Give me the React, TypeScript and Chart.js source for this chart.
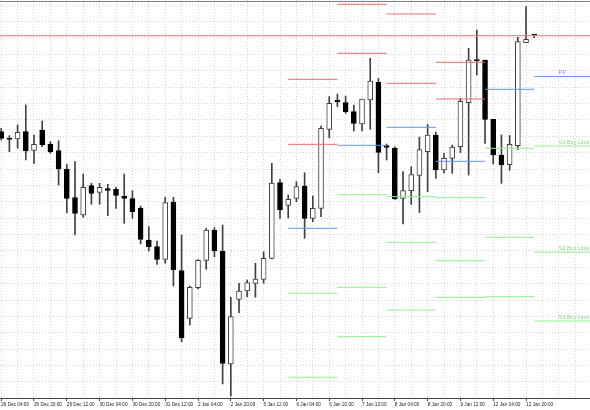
import React, { useEffect, useRef } from 'react';
import { Chart, registerables } from 'chart.js';

Chart.register(...registerables);

// ---- time axis ----
const TIME_LABELS = [
  '26 Dec 04:00', '26 Dec 20:00', '29 Dec 12:00', '30 Dec 04:00', '30 Dec 20:00',
  '31 Dec 12:00', '2 Jan 04:00', '2 Jan 20:00', '5 Jan 12:00', '6 Jan 04:00',
  '6 Jan 20:00', '7 Jan 12:00', '8 Jan 04:00', '8 Jan 20:00', '9 Jan 12:00',
  '12 Jan 04:00', '12 Jan 20:00',
];
const BARS_PER_LABEL = 4;

// ---- H4 candles (index = bar number from 26 Dec 04:00) ----
const OPEN = [
  1226.83, 1226.20, 1226.10, 1226.83, 1224.97, 1227.00, 1225.57, 1224.93, 1223.07, 1220.23,
  1218.50, 1221.43, 1220.77, 1221.13, 1221.07, 1220.37, 1220.13, 1219.17, 1216.00, 1215.33,
  1214.07, 1219.80, 1212.93, 1208.17, 1211.23, 1213.97, 1217.00, 1214.90, 1203.60, 1210.07,
  1210.90, 1211.67, 1212.07, 1214.17, 1221.73, 1219.47, 1220.17, 1221.40, 1218.17, 1219.17,
  1227.07, 1230.00, 1229.73, 1228.83, 1227.60, 1230.00, 1231.77, 1225.43, 1225.17, 1220.17,
  1220.93, 1222.47, 1224.83, 1226.50, 1223.00, 1224.17, 1225.33, 1229.73, 1234.00, 1234.00,
  1228.07, 1224.50, 1223.53, 1225.43, 1235.73, 1236.53,
];
const HIGH = [
  1227.17, 1226.43, 1227.50, 1229.50, 1226.50, 1227.90, 1225.83, 1225.93, 1223.57, 1223.83,
  1222.60, 1221.67, 1221.67, 1221.57, 1221.27, 1222.60, 1220.93, 1219.40, 1217.33, 1215.90,
  1220.27, 1220.27, 1216.50, 1211.40, 1214.05, 1217.17, 1217.23, 1217.50, 1210.27, 1211.67,
  1212.00, 1213.67, 1214.83, 1223.67, 1222.07, 1220.50, 1221.83, 1222.73, 1220.40, 1227.40,
  1230.33, 1230.60, 1230.40, 1229.50, 1230.10, 1234.17, 1232.17, 1225.60, 1225.33, 1222.83,
  1223.33, 1226.30, 1227.55, 1226.80, 1224.67, 1225.50, 1230.17, 1235.17, 1237.00, 1234.00,
  1228.07, 1226.50, 1226.45, 1236.27, 1239.33, 1236.53,
];
const LOW = [
  1226.00, 1224.83, 1225.17, 1224.00, 1223.67, 1225.33, 1224.67, 1221.50, 1218.73, 1216.50,
  1218.27, 1219.57, 1219.57, 1218.43, 1219.17, 1217.67, 1218.17, 1215.60, 1214.90, 1213.57,
  1213.67, 1211.40, 1205.83, 1207.50, 1211.10, 1213.07, 1214.33, 1201.60, 1200.40, 1208.73,
  1210.33, 1210.27, 1211.67, 1214.10, 1218.17, 1218.20, 1219.83, 1216.17, 1217.83, 1218.33,
  1226.23, 1229.33, 1228.67, 1226.90, 1226.90, 1227.07, 1222.73, 1224.00, 1220.05, 1217.60,
  1219.55, 1218.75, 1220.83, 1222.17, 1222.70, 1222.67, 1224.75, 1222.50, 1232.50, 1225.67,
  1223.60, 1221.67, 1222.97, 1225.07, 1235.73, 1236.23,
];
const CLOSE = [
  1226.17, 1226.07, 1226.77, 1224.93, 1225.57, 1225.50, 1224.83, 1223.10, 1220.17, 1218.67,
  1221.27, 1220.67, 1221.27, 1220.97, 1220.47, 1220.17, 1218.83, 1216.07, 1215.33, 1214.07,
  1219.73, 1213.00, 1206.23, 1211.27, 1213.97, 1217.00, 1214.90, 1203.67, 1208.33, 1210.90,
  1211.73, 1212.10, 1214.17, 1221.70, 1219.00, 1220.07, 1221.35, 1218.17, 1219.17, 1227.17,
  1229.67, 1229.80, 1228.83, 1227.67, 1230.10, 1231.90, 1224.77, 1225.27, 1220.10, 1220.95,
  1222.53, 1225.03, 1226.50, 1223.00, 1224.17, 1225.30, 1229.87, 1234.00, 1233.93, 1228.07,
  1224.50, 1223.50, 1225.57, 1235.83, 1236.07, 1236.50,
];

// ---- daily pivot levels (6, 7, 8, 9, 12, 13 Jan) ----
const DAY_START = [35, 41, 47, 53, 59, 65];
const DAY_END = [41, 47, 53, 59, 65, 72];
const R2 = [1232.07, 1239.57, 1238.60, 1233.77, null, null];
const R1 = [1225.57, 1234.67, 1231.67, 1230.10, null, null];
const PP = [1217.17, 1225.47, 1227.27, 1223.87, 1231.07, 1232.35];
const S1 = [1210.67, 1220.53, 1220.33, 1220.23, 1225.17, 1225.40];
const S2 = [1202.27, 1211.27, 1215.77, 1213.93, 1216.27, 1214.78];
const S3 = [null, 1206.33, 1209.00, 1210.27, 1210.33, 1207.90];
const H_LINE = 1236.43;

const LEVEL_LABELS = ['PP', 'S1 Buy Limit', 'S2 Buy Limit', 'S3 Buy Limit'];
const LABEL_BAR = 68;

// ---- scale settings ----
const X_MIN = -0.146;
const X_MAX = 71.8;
const Y_MIN = 1200.2;
const Y_MAX = 1240;
const GRID_TOP = 1239.48;
const GRID_STEP = 1.638;

const RED = '#f06a6a';
const RED_LINE = '#ec7676';
const BLUE = '#6495ed';
const GREEN = '#90ee90';
const GREEN_TEXT = '#7cdc7c';
const WICK = '#404040';
const FONT = '"Liberation Sans", Arial, sans-serif';

function segments(levels: (number | null)[]) {
  const pts: { x: number; y: number | null }[] = [];
  levels.forEach((v, d) => {
    if (v == null) return;
    pts.push({ x: DAY_START[d], y: v }, { x: DAY_END[d], y: v }, { x: DAY_END[d], y: null });
  });
  return pts;
}

function lineDs(data: any[], color: string) {
  return {
    type: 'line' as const,
    data,
    borderColor: color,
    borderWidth: 1,
    pointRadius: 0,
    spanGaps: false,
    tension: 0,
    order: 0,
  };
}

const labelPlugin = {
  id: 'levelLabels',
  afterDatasetsDraw(chart: any) {
    const { ctx, scales } = chart;
    const x = scales.x;
    const y = scales.y;
    const last = DAY_START.length - 1;
    const vals = [PP[last], S1[last], S2[last], S3[last]];
    ctx.save();
    ctx.font = `5.4px ${FONT}`;
    ctx.textAlign = 'left';
    ctx.textBaseline = 'bottom';
    LEVEL_LABELS.forEach((t, i) => {
      ctx.fillStyle = i === 0 ? BLUE : GREEN_TEXT;
      ctx.fillText(t, x.getPixelForValue(LABEL_BAR), y.getPixelForValue(vals[i] as number) - 1.2);
    });
    ctx.restore();
  },
  afterDraw(chart: any) {
    const { ctx, chartArea } = chart;
    ctx.save();
    ctx.strokeStyle = '#808080';
    ctx.lineWidth = 1;
    ctx.beginPath();
    ctx.moveTo(chartArea.left, 1.5);
    ctx.lineTo(chartArea.right, 1.5);
    ctx.stroke();
    ctx.restore();
  },
};

export default function App() {
  const ref = useRef<HTMLCanvasElement>(null);

  useEffect(() => {
    document.body.style.margin = '0';
    const idx = OPEN.map((_, i) => i);
    const bull = idx.map((i) => CLOSE[i] >= OPEN[i]);

    const chart = new Chart(ref.current as HTMLCanvasElement, {
      type: 'bar',
      data: {
        datasets: [
          lineDs([{ x: X_MIN, y: H_LINE }, { x: X_MAX, y: H_LINE }], RED_LINE),
          lineDs(segments(R2), RED),
          lineDs(segments(R1), RED),
          lineDs(segments(PP), BLUE),
          lineDs(segments(S1), GREEN),
          lineDs(segments(S2), GREEN),
          lineDs(segments(S3), GREEN),
          {
            type: 'bar' as const,
            data: idx.map((i) => ({ x: i, y: [Math.min(OPEN[i], CLOSE[i]), Math.max(OPEN[i], CLOSE[i])] })) as any,
            backgroundColor: idx.map((i) => (bull[i] ? '#ffffff' : '#000000')),
            borderColor: idx.map((i) => (bull[i] ? WICK : '#000000')),
            borderWidth: 1,
            borderSkipped: false,
            barThickness: 5,
            minBarLength: 1,
            grouped: false,
            order: 1,
          },
          {
            type: 'bar' as const,
            data: idx.map((i) => ({ x: i, y: [LOW[i], HIGH[i]] })) as any,
            backgroundColor: WICK,
            borderWidth: 0,
            barThickness: 1,
            minBarLength: 1,
            grouped: false,
            order: 2,
          },
        ] as any,
      },
      options: {
        responsive: false,
        animation: false,
        devicePixelRatio: 1,
        layout: { padding: 0 },
        plugins: { legend: { display: false }, tooltip: { enabled: false } },
        scales: {
          x: {
            type: 'linear',
            min: X_MIN,
            max: X_MAX,
            offset: false,
            afterBuildTicks: (s: any) => {
              const t = [];
              for (let b = 0; b <= 70; b += 2) t.push({ value: b });
              s.ticks = t;
            },
            afterFit: (s: any) => {
              s.height = 12;
            },
            ticks: {
              autoSkip: false,
              maxRotation: 0,
              minRotation: 0,
              align: 'start',
              padding: 1,
              color: '#222',
              font: { family: FONT, size: 4.7 },
              callback: (v: any) => {
                const b = Number(v);
                const k = b / BARS_PER_LABEL;
                return b % BARS_PER_LABEL === 0 && k < TIME_LABELS.length ? TIME_LABELS[k] : '';
              },
            },
            grid: {
              offset: false,
              color: '#d4d4d4',
              lineWidth: 1,
              drawTicks: true,
              tickLength: 3,
              tickColor: (c: any) =>
                c.tick && c.tick.value % BARS_PER_LABEL === 0 && c.tick.value <= 64 ? '#444' : 'rgba(0,0,0,0)',
            },
            border: { display: true, color: '#444', width: 1, dash: [1, 2] },
          },
          y: {
            type: 'linear',
            display: true,
            min: Y_MIN,
            max: Y_MAX,
            afterBuildTicks: (s: any) => {
              const t = [];
              for (let n = 0; GRID_TOP - GRID_STEP * n >= Y_MIN; n++) t.push({ value: GRID_TOP - GRID_STEP * n });
              s.ticks = t;
            },
            afterFit: (s: any) => {
              s.width = 0;
            },
            ticks: { display: false },
            grid: { color: '#d4d4d4', drawTicks: false },
            border: { display: false, dash: [1, 2] },
          },
        },
      } as any,
      plugins: [labelPlugin],
    });
    return () => chart.destroy();
  }, []);

  return (
    <div style={{ position: 'absolute', left: 0, top: 0, width: 590, height: 410, background: '#fff' }}>
      <canvas ref={ref} width={590} height={410} style={{ display: 'block', width: 590, height: 410 }} />
    </div>
  );
}
